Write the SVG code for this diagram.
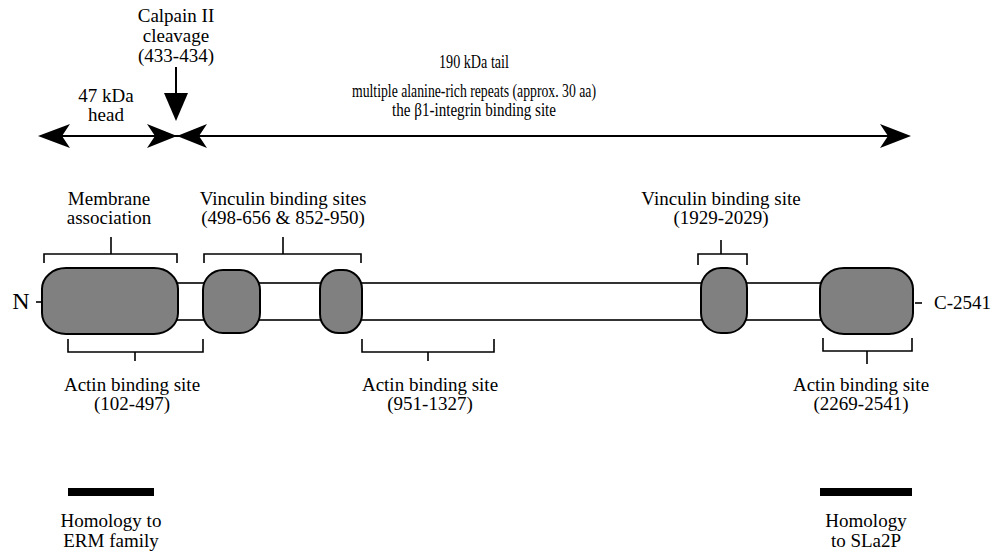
<svg xmlns="http://www.w3.org/2000/svg" width="992" height="552" viewBox="0 0 992 552">
<style>
text{font-family:"Liberation Serif","Times New Roman",serif;font-size:19px;fill:#000;text-anchor:middle}
.dom{fill:#808080;stroke:#000;stroke-width:2}
.br{fill:none;stroke:#000;stroke-width:1.6}
.ln{fill:none;stroke:#000;stroke-width:2}
.hd{fill:#000;stroke:none}
</style>
<rect width="992" height="552" fill="#fff"/>
<g id="connectors">
  <line class="ln" x1="45" y1="136" x2="905" y2="136"/>
  <polygon class="hd" points="38,136 70,124 62,136 70,148"/>
  <polygon class="hd" points="177,136 147,124 155,136 147,148"/>
  <polygon class="hd" points="177,136 207,124 199,136 207,148"/>
  <polygon class="hd" points="911,136 880,124 888,136 880,148"/>
  <line class="ln" x1="176" y1="67" x2="176" y2="96"/>
  <polygon class="hd" points="164,93 188,93 176,121"/>
</g>
<g id="labels-top">
  <text x="176" y="22">Calpain II</text>
  <text x="176" y="42">cleavage</text>
  <text x="176" y="62">(433-434)</text>
  <text x="106" y="102">47 kDa</text>
  <text x="106" y="121">head</text>
  <text x="474" y="68" textLength="70" lengthAdjust="spacingAndGlyphs">190 kDa tail</text>
  <text x="474" y="97" textLength="244" lengthAdjust="spacingAndGlyphs">multiple alanine-rich repeats (approx. 30 aa)</text>
  <text x="474" y="116" textLength="164" lengthAdjust="spacingAndGlyphs">the β1-integrin binding site</text>
</g>
<g id="backbone">
  <rect x="170" y="283" width="655" height="37" fill="#fff" stroke="#000" stroke-width="1.6"/>
  <line x1="36" y1="302" x2="43" y2="302" stroke="#000" stroke-width="1.6"/>
  <line x1="915" y1="303" x2="922" y2="303" stroke="#000" stroke-width="1.6"/>
  <text x="21" y="309" style="font-size:24px">N</text>
  <text x="934" y="309" style="text-anchor:start">C-2541</text>
</g>
<g id="domain-head"><rect class="dom" x="42" y="268" width="136" height="66" rx="24" ry="21"/></g>
<g id="domain-vbs1"><rect class="dom" x="203" y="270" width="57" height="63" rx="20" ry="20"/></g>
<g id="domain-vbs2"><rect class="dom" x="320" y="270" width="42" height="63" rx="19" ry="19"/></g>
<g id="domain-vbs3"><rect class="dom" x="701" y="268" width="46" height="65" rx="20" ry="20"/></g>
<g id="domain-tail"><rect class="dom" x="820" y="268" width="93" height="66" rx="24" ry="21"/></g>
<g id="bracket-membrane">
  <path class="br" d="M44,263 V254 H177 V263 M111,254 V237"/>
  <text x="109" y="205">Membrane</text>
  <text x="109" y="224">association</text>
</g>
<g id="bracket-vinculin-sites">
  <path class="br" d="M204,263 V254 H361 V263 M283,254 V237"/>
  <text x="283" y="205">Vinculin binding sites</text>
  <text x="283" y="224">(498-656 &amp; 852-950)</text>
</g>
<g id="bracket-vinculin-site">
  <path class="br" d="M698,265 V254 H747 V265 M721,254 V240"/>
  <text x="721" y="205">Vinculin binding site</text>
  <text x="721" y="224">(1929-2029)</text>
</g>
<g id="bracket-actin1">
  <path class="br" d="M68,339 V352 H203 V339 M135,352 V361"/>
  <text x="132" y="391">Actin binding site</text>
  <text x="132" y="410">(102-497)</text>
</g>
<g id="bracket-actin2">
  <path class="br" d="M362,339 V352 H494 V339 M428,352 V361"/>
  <text x="430" y="391">Actin binding site</text>
  <text x="430" y="410">(951-1327)</text>
</g>
<g id="bracket-actin3">
  <path class="br" d="M823,338 V351 H912 V338 M867,351 V364"/>
  <text x="861" y="391">Actin binding site</text>
  <text x="861" y="410">(2269-2541)</text>
</g>
<g id="homology-erm">
  <rect x="68" y="488" width="86" height="8" fill="#000"/>
  <text x="111" y="527">Homology to</text>
  <text x="111" y="547">ERM family</text>
</g>
<g id="homology-sla2p">
  <rect x="820" y="488" width="92" height="8" fill="#000"/>
  <text x="866" y="527">Homology</text>
  <text x="866" y="547">to SLa2P</text>
</g>
</svg>
